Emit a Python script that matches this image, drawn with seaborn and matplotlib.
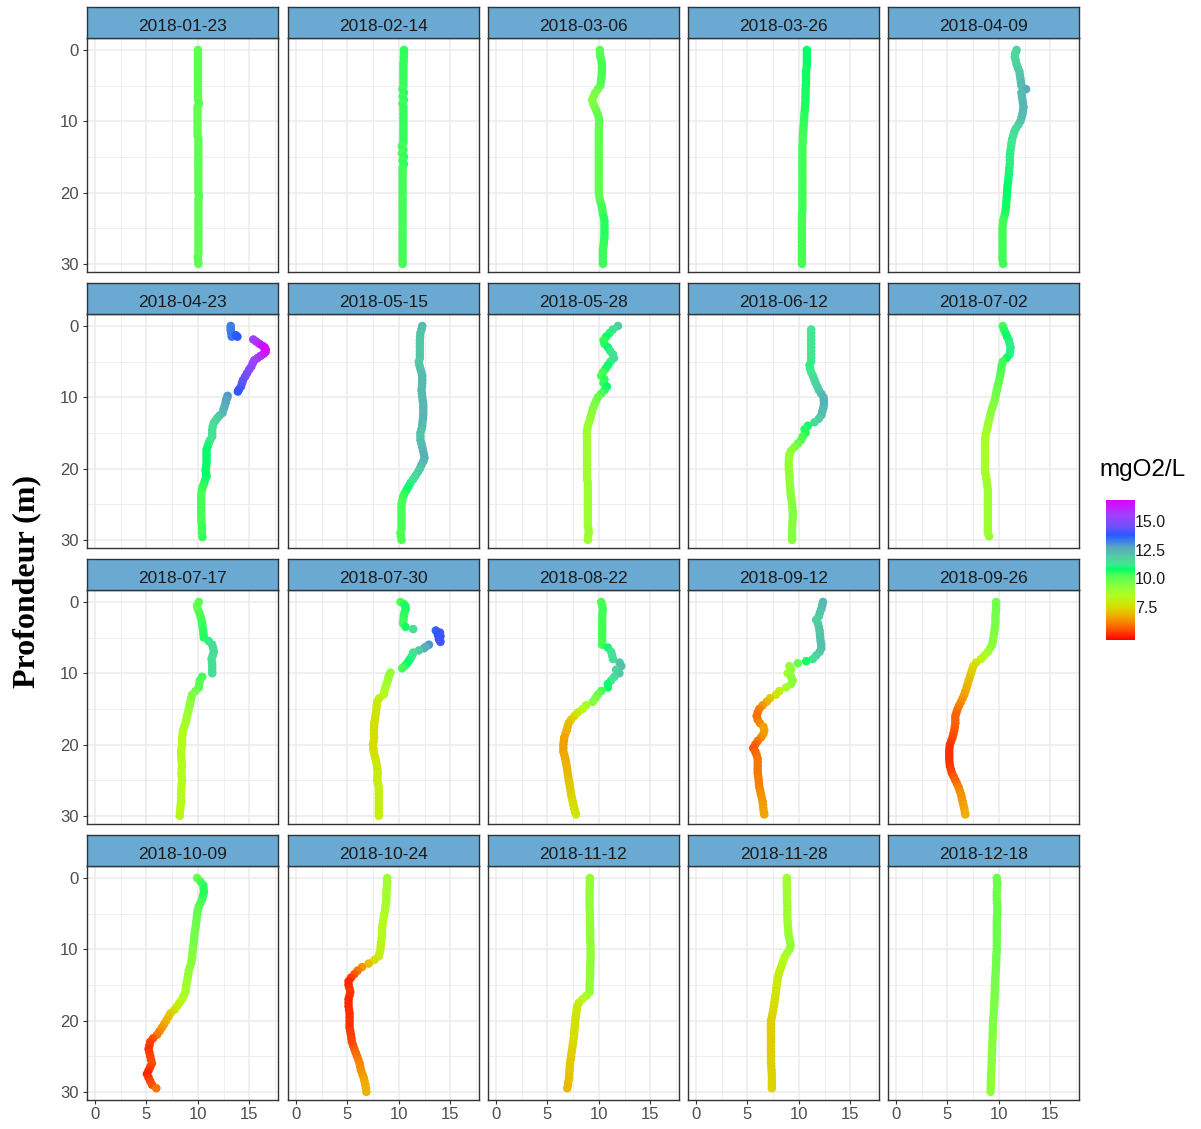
import numpy as np
import pandas as pd
import matplotlib
matplotlib.use("Agg")
import matplotlib.pyplot as plt
import seaborn as sns
from matplotlib.colors import LinearSegmentedColormap, Normalize
from matplotlib.cm import ScalarMappable

sns.set_style("white")
plt.rcParams['font.family'] = ['Liberation Sans', 'DejaVu Sans']

# ---------------- data ----------------
dates = ["2018-01-23", "2018-02-14", "2018-03-06", "2018-03-26", "2018-04-09",
         "2018-04-23", "2018-05-15", "2018-05-28", "2018-06-12", "2018-07-02",
         "2018-07-17", "2018-07-30", "2018-08-22", "2018-09-12", "2018-09-26",
         "2018-10-09", "2018-10-24", "2018-11-12", "2018-11-28", "2018-12-18"]

# depth (m), every half metre
dh = [0, 0.5, 1, 1.5, 2, 2.5, 3, 3.5, 4, 4.5, 5, 5.5, 6, 6.5, 7, 7.5, 8, 8.5, 9, 9.5,
      10, 10.5, 11, 11.5, 12, 12.5, 13, 13.5, 14, 14.5, 15, 15.5, 16, 16.5, 17, 17.5,
      18, 18.5, 19, 19.5, 20, 20.5, 21, 21.5, 22, 22.5, 23, 23.5, 24, 24.5, 25, 25.5,
      26, 26.5, 27, 27.5, 28, 28.5, 29, 29.5, 30]

o2_0123 = [10.02, 10.02, 10.02, 10.02, 10.02, 10.02, 10.02, 10.02, 10.02, 10.02,
           10.02, 10.02, 10.02, 10.02, 10.02, 10.12, 9.97, 9.97, 9.97, 9.97,
           9.97, 9.97, 9.97, 9.97, 9.97, 10.06, 10.05, 10.05, 10.05, 10.05,
           10.05, 10.05, 10.05, 10.05, 10.05, 10.05, 10.05, 10.05, 10.05, 10.05,
           10.05, 10.12, 10.06, 10.06, 10.06, 10.06, 10.06, 10.06, 10.06, 10.06,
           10.06, 10.06, 10.06, 10.06, 10.06, 10.06, 10.06, 10.06, 10.0, 10.03,
           10.06]
o2_0214 = [10.5, 10.5, 10.48, 10.48, 10.45, 10.45, 10.45, 10.45, 10.45, 10.45,
           10.45, 10.35, 10.5, 10.38, 10.5, 10.35, 10.45, 10.45, 10.45, 10.45,
           10.45, 10.45, 10.45, 10.45, 10.45, 10.45, 10.45, 10.3, 10.45, 10.3,
           10.5, 10.35, 10.5, 10.37, 10.37, 10.37, 10.37, 10.37, 10.37, 10.37,
           10.37, 10.37, 10.37, 10.37, 10.37, 10.37, 10.37, 10.37, 10.37, 10.37,
           10.37, 10.37, 10.37, 10.37, 10.37, 10.37, 10.37, 10.37, 10.37, 10.37,
           10.37]
o2_0306 = [10.1, 10.12, 10.15, 10.25, 10.3, 10.3, 10.3, 10.28, 10.25, 10.2,
           10.15, 9.9, 9.65, 9.5, 9.35, 9.45, 9.6, 9.75, 9.9, 10.0,
           10.05, 10.0, 10.0, 10.0, 10.0, 10.0, 10.0, 10.0, 10.0, 10.0,
           10.0, 10.0, 10.0, 10.0, 10.0, 10.0, 10.0, 10.0, 10.0, 10.0,
           10.0, 10.05, 10.1, 10.2, 10.3, 10.35, 10.4, 10.5, 10.55, 10.55,
           10.55, 10.55, 10.55, 10.52, 10.5, 10.45, 10.4, 10.4, 10.4, 10.4,
           10.4]
o2_0326 = [10.78, 10.78, 10.78, 10.78, 10.78, 10.75, 10.7, 10.7, 10.7, 10.7,
           10.68, 10.66, 10.65, 10.65, 10.65, 10.62, 10.6, 10.57, 10.55, 10.52,
           10.5, 10.47, 10.45, 10.42, 10.4, 10.38, 10.38, 10.35, 10.35, 10.35,
           10.35, 10.35, 10.35, 10.35, 10.35, 10.35, 10.35, 10.35, 10.35, 10.35,
           10.35, 10.35, 10.35, 10.35, 10.35, 10.35, 10.3, 10.3, 10.3, 10.3,
           10.3, 10.3, 10.3, 10.3, 10.3, 10.3, 10.3, 10.3, 10.3, 10.3,
           10.3]
o2_0409 = [11.73, 11.6, 11.56, 11.65, 11.73, 11.85, 12.0, 12.05, 12.1, 12.15,
           12.2, 12.65, 12.2, 12.25, 12.3, 12.35, 12.4, 12.35, 12.3, 12.2,
           12.1, 11.9, 11.66, 11.5, 11.4, 11.3, 11.24, 11.2, 11.14, 11.1,
           11.07, 11.07, 11.07, 11.03, 11.0, 10.97, 10.94, 10.9, 10.85, 10.82,
           10.8, 10.78, 10.75, 10.72, 10.7, 10.65, 10.6, 10.5, 10.42, 10.38,
           10.36, 10.36, 10.36, 10.36, 10.36, 10.36, 10.36, 10.36, 10.36, 10.36,
           10.42]

dep_0423 = [0.0, 0.3, 0.6, 0.9, 1.2, 1.5, 1.3, 1.5, 1.9, 2.2, 2.5, 2.8, 3.0, 3.3, 3.6,
            3.9, 4.2, 4.5, 4.8, 5.2, 5.7, 6.1, 6.6, 7.1, 7.6, 8.0, 8.5, 8.9, 9.2, 9.8,
            10.1, 10.4, 10.8, 11.3, 11.7, 12.2, 12.6, 12.9, 13.3, 13.6, 14.1, 14.6, 15.0,
            15.5, 16.0, 16.4, 16.9, 17.4, 17.9, 18.3, 18.8, 19.3, 19.8, 20.2, 20.7, 21.1,
            21.6, 22.1, 22.5, 23.0, 23.5, 24.0, 24.5, 25.0, 25.5, 26.0, 26.5, 27.0, 27.5,
            28.0, 28.5, 29.0, 29.6]
o2_0423 = [13.2, 13.2, 13.2, 13.25, 13.3, 13.3, 13.7, 13.85, 15.4, 15.7, 16.0, 16.3,
           16.5, 16.6, 16.6, 16.4, 16.1, 15.8, 15.5, 15.35, 15.2, 15.0, 14.8, 14.6, 14.4,
           14.3, 14.2, 14.0, 13.9, 12.9, 12.85, 12.75, 12.7, 12.6, 12.5, 12.4, 12.1, 11.9,
           11.7, 11.55, 11.45, 11.4, 11.4, 11.4, 11.2, 11.07, 10.95, 10.85, 10.85, 10.85,
           10.85, 10.85, 10.8, 10.75, 10.8, 10.85, 10.7, 10.6, 10.5, 10.4, 10.35, 10.33,
           10.33, 10.33, 10.33, 10.33, 10.33, 10.35, 10.35, 10.4, 10.4, 10.4, 10.45]

o2_0515 = [12.28, 12.2, 12.1, 12.07, 12.05, 12.05, 12.05, 12.05, 12.05, 12.05,
           11.95, 12.0, 12.1, 12.2, 12.28, 12.28, 12.28, 12.25, 12.2, 12.25,
           12.28, 12.33, 12.38, 12.38, 12.38, 12.37, 12.35, 12.3, 12.28, 12.2,
           12.1, 12.1, 12.1, 12.2, 12.28, 12.36, 12.44, 12.5, 12.38, 12.2,
           12.05, 11.85, 11.63, 11.4, 11.14, 10.95, 10.75, 10.55, 10.42, 10.33,
           10.26, 10.26, 10.26, 10.26, 10.26, 10.26, 10.26, 10.26, 10.16, 10.2,
           10.26]
o2_0528 = [11.86, 11.37, 11.04, 10.72, 10.46, 10.55, 10.88, 11.1, 11.37, 11.47,
           11.14, 10.88, 10.65, 10.4, 10.23, 10.55, 10.46, 10.78, 10.55, 10.23,
           9.9, 9.75, 9.58, 9.45, 9.35, 9.25, 9.15, 9.05, 8.93, 8.88,
           8.83, 8.85, 8.85, 8.85, 8.85, 8.85, 8.85, 8.85, 8.85, 8.85,
           8.85, 8.85, 8.85, 8.85, 8.93, 8.93, 8.93, 8.93, 8.93, 8.93,
           8.93, 8.93, 8.93, 8.93, 8.93, 8.93, 8.93, 9.0, 9.02, 8.95,
           8.93]
o2_0612 = [11.2, 11.2, 11.2, 11.2, 11.2, 11.2, 11.2, 11.2, 11.2, 11.2,
           11.04, 11.1, 11.2, 11.37, 11.5, 11.63, 11.8, 11.95, 12.18, 12.4,
           12.44, 12.44, 12.38, 12.28, 12.2, 11.95, 11.53, 10.88, 10.55, 10.65,
           10.39, 10.23, 9.9, 9.58, 9.25, 9.09, 9.05, 9.02, 9.02, 9.02,
           9.05, 9.09, 9.1, 9.12, 9.15, 9.18, 9.2, 9.25, 9.3, 9.35,
           9.38, 9.41, 9.41, 9.41, 9.38, 9.35, 9.35, 9.35, 9.35, 9.35]
o2_0702 = [10.39, 10.5, 10.65, 10.8, 10.98, 11.05, 11.14, 11.1, 11.04, 10.75,
           10.39, 10.3, 10.23, 10.18, 10.13, 10.05, 9.97, 9.88, 9.8, 9.73,
           9.67, 9.58, 9.48, 9.36, 9.25, 9.17, 9.09, 9.0, 8.93, 8.85,
           8.76, 8.7, 8.66, 8.66, 8.66, 8.66, 8.66, 8.66, 8.66, 8.66,
           8.66, 8.66, 8.76, 8.8, 8.83, 8.88, 8.93, 8.93, 8.93, 8.93,
           8.93, 8.93, 8.93, 8.93, 8.93, 8.93, 8.93, 8.93, 8.93, 9.05]
o2_0717 = [10.1, 9.93, 10.0, 10.15, 10.26, 10.35, 10.42, 10.47, 10.52, 10.55,
           10.59, 11.07, 11.4, 11.5, 11.56, 11.45, 11.34, 11.38, 11.4, 11.4,
           11.4, 10.42, 10.2, 10.15, 10.1, 9.77, 9.45, 9.35, 9.28, 9.2,
           9.12, 9.04, 8.96, 8.88, 8.8, 8.68, 8.57, 8.52, 8.47, 8.47,
           8.47, 8.42, 8.37, 8.38, 8.4, 8.43, 8.47, 8.43, 8.4, 8.43,
           8.47, 8.43, 8.4, 8.38, 8.37, 8.37, 8.37, 8.33, 8.3, 8.26,
           8.24]

dep_0730 = [0, 0.3, 0.6, 1, 1.5, 2, 2.5, 3, 3.5, 3.8, 4.0, 4.3, 4.6, 4.8, 5.0, 5.2, 5.4,
            5.6, 6.0, 6.3, 6.5, 6.8, 7.1, 7.5, 7.9, 8.2, 8.6, 9.0, 9.3, 9.9, 10.3, 10.7,
            11, 11.5, 12, 12.5, 13, 13.5, 14, 14.5, 15, 15.5, 16, 16.5, 17, 17.5, 18,
            18.5, 19, 19.5, 20, 20.5, 21, 21.5, 22, 22.5, 23, 23.5, 24, 24.5, 25, 25.5,
            26, 26.5, 27, 27.5, 28, 28.5, 29, 29.5, 30]
o2_0730 = [10.16, 10.5, 10.65, 10.65, 10.55, 10.49, 10.45, 10.42, 10.65, 11.4,
           13.6, 14.0, 13.8, 14.05, 13.95, 13.9, 14.0, 14.05,
           12.93, 12.6, 12.44, 11.95, 11.4, 11.3, 11.14, 11.0, 10.81, 10.55, 10.33,
           9.19, 9.05, 8.98, 8.93, 8.8, 8.7, 8.6, 8.53, 8.1, 7.88,
           7.85, 7.82, 7.77, 7.72, 7.67, 7.62, 7.6, 7.56, 7.58, 7.6,
           7.55, 7.49, 7.52, 7.56, 7.64, 7.72, 7.8, 7.88, 7.92, 7.95,
           7.92, 7.9, 7.98, 8.05, 8.05, 8.05, 8.05, 8.05, 8.05, 8.05,
           8.05, 8.05]

dep_0822 = [0, 0.5, 1, 1.5, 2, 2.5, 3, 3.5, 4, 4.5, 5, 5.5, 6, 6.4, 7, 7.5, 8, 8.5, 9,
            9.5, 10, 10.5, 11, 11.5, 12, 12.5, 13, 13.5, 14, 14.5, 15, 15.5, 16, 16.5, 17,
            17.5, 18, 18.5, 19, 19.5, 20, 20.5, 21, 21.5, 22, 22.5, 23, 23.5, 24, 24.5,
            25, 25.5, 26, 26.5, 27, 27.5, 28, 28.5, 29, 29.5, 29.8]
o2_0822 = [10.23, 10.33, 10.39, 10.35, 10.33, 10.33, 10.33, 10.33, 10.33, 10.33, 10.33,
           10.33, 10.33, 10.88,
           11.2, 11.3, 11.37, 12.02, 12.18, 11.69, 12.0, 11.5, 11.2, 10.88,
           10.88, 10.23, 9.9, 9.67, 9.41, 8.76, 8.44, 7.95, 7.62, 7.3,
           7.07, 6.97, 6.87, 6.75, 6.64, 6.6, 6.55, 6.55, 6.55, 6.65,
           6.74, 6.8, 6.87, 6.92, 6.97, 7.02, 7.07, 7.13, 7.2, 7.25,
           7.3, 7.38, 7.46, 7.54, 7.62, 7.7, 7.78]

dep_0912 = [0, 0.5, 1, 1.5, 2, 2.5, 3, 3.5, 4, 4.5, 5, 5.5, 6, 6.5, 7, 7.5, 8, 8.3, 8.6,
            9, 9.5, 10, 10.5, 11, 11.5, 12, 12.5, 13, 13.5, 14, 14.5, 15, 15.5, 16, 16.5,
            17, 17.5, 18, 18.5, 19, 19.5, 20, 20.5, 21, 21.5, 22, 22.5, 23, 23.5, 24,
            24.5, 25, 25.5, 26, 26.5, 27, 27.5, 28, 28.5, 29, 29.5, 29.8]
o2_0912 = [12.35, 12.28, 12.18, 12.05, 11.95, 11.69, 11.86, 11.95, 12.02, 12.05,
           12.08, 12.12, 12.18, 12.18, 12.02, 11.69, 11.37, 10.72, 9.9,
           9.09, 9.25, 8.92, 9.25, 9.41, 9.25, 8.76, 8.11, 7.78, 7.2, 6.87, 6.48,
           6.16, 6.0, 5.9, 6.0, 6.22, 6.55, 6.64, 6.55, 6.32, 6.0,
           5.77, 5.57, 5.77, 5.9, 6.0, 6.0, 6.0, 6.0, 6.0, 6.05,
           6.09, 6.12, 6.16, 6.24, 6.32, 6.4, 6.48, 6.52, 6.55, 6.6, 6.64]

dep_0926 = [0, 0.5, 1, 1.5, 2, 2.5, 3, 3.5, 4, 4.5, 5, 5.5, 6, 6.5, 7, 7.5, 8, 8.5, 9,
            9.5, 10, 10.5, 11, 11.5, 12, 12.5, 13, 13.5, 14, 14.5, 15, 15.5, 16, 16.5, 17,
            17.5, 18, 18.5, 19, 19.5, 20, 20.5, 21, 21.5, 22, 22.5, 23, 23.5, 24, 24.5,
            25, 25.5, 26, 26.5, 27, 27.5, 28, 28.5, 29, 29.5, 29.8]
o2_0926 = [9.74, 9.74, 9.74, 9.7, 9.67, 9.67, 9.67, 9.62, 9.58, 9.53,
           9.48, 9.42, 9.35, 9.15, 8.93, 8.6, 8.27, 7.78, 7.52, 7.4,
           7.3, 7.18, 7.07, 6.97, 6.87, 6.75, 6.64, 6.48, 6.32, 6.15,
           5.99, 5.88, 5.77, 5.77, 5.77, 5.72, 5.67, 5.58, 5.5, 5.37,
           5.24, 5.2, 5.18, 5.18, 5.18, 5.2, 5.24, 5.34, 5.44, 5.6,
           5.77, 5.93, 6.09, 6.2, 6.32, 6.4, 6.48, 6.56, 6.64, 6.7,
           6.74]
o2_1009 = [9.93, 10.26, 10.52, 10.56, 10.59, 10.5, 10.42, 10.26, 10.1, 10.0,
           9.93, 9.9, 9.87, 9.82, 9.77, 9.72, 9.67, 9.64, 9.61, 9.56,
           9.51, 9.48, 9.45, 9.4, 9.35, 9.23, 9.12, 9.07, 9.02, 8.95,
           8.89, 8.84, 8.79, 8.63, 8.47, 8.22, 7.98, 7.72, 7.33, 7.13,
           6.94, 6.72, 6.51, 6.27, 6.03, 5.64, 5.37, 5.29, 5.21, 5.29,
           5.37, 5.45, 5.54, 5.37, 5.21, 5.05, 5.21, 5.37, 5.54, 5.96]
o2_1024 = [8.86, 8.86, 8.86, 8.82, 8.79, 8.79, 8.79, 8.75, 8.7, 8.65,
           8.6, 8.53, 8.47, 8.42, 8.37, 8.37, 8.37, 8.32, 8.27, 8.24,
           8.21, 8.13, 8.05, 7.62, 7.07, 6.42, 5.99, 5.67, 5.34, 5.11,
           5.11, 5.2, 5.28, 5.2, 5.11, 5.11, 5.11, 5.16, 5.21, 5.21,
           5.21, 5.21, 5.21, 5.28, 5.34, 5.39, 5.44, 5.55, 5.67, 5.8,
           5.93, 6.06, 6.19, 6.25, 6.32, 6.45, 6.58, 6.66, 6.74, 6.8,
           6.84]
o2_1112 = [9.13, 9.13, 9.13, 9.12, 9.1, 9.1, 9.1, 9.1, 9.1, 9.12,
           9.13, 9.13, 9.13, 9.14, 9.15, 9.15, 9.15, 9.16, 9.18, 9.19,
           9.2, 9.2, 9.2, 9.19, 9.18, 9.16, 9.15, 9.15, 9.15, 9.12,
           9.1, 9.1, 9.1, 8.8, 8.4, 8.06, 7.9, 7.85, 7.8, 7.75,
           7.7, 7.67, 7.65, 7.62, 7.6, 7.55, 7.5, 7.45, 7.4, 7.35,
           7.3, 7.25, 7.2, 7.17, 7.15, 7.12, 7.1, 7.05, 7.0, 6.93]
o2_1128 = [8.83, 8.83, 8.83, 8.84, 8.85, 8.85, 8.85, 8.86, 8.88, 8.88,
           8.88, 8.89, 8.9, 8.92, 8.95, 8.98, 9.0, 9.08, 9.15, 9.2,
           9.1, 8.87, 8.64, 8.52, 8.4, 8.28, 8.15, 8.05, 7.96, 7.9,
           7.85, 7.81, 7.77, 7.72, 7.67, 7.62, 7.57, 7.51, 7.45, 7.38,
           7.3, 7.29, 7.28, 7.28, 7.28, 7.29, 7.3, 7.29, 7.28, 7.29,
           7.3, 7.3, 7.3, 7.32, 7.35, 7.37, 7.38, 7.38, 7.38, 7.38]
o2_1218 = [9.8, 9.82, 9.85, 9.82, 9.8, 9.8, 9.8, 9.82, 9.85, 9.85,
           9.85, 9.82, 9.8, 9.8, 9.8, 9.8, 9.8, 9.8, 9.8, 9.8,
           9.8, 9.78, 9.75, 9.75, 9.75, 9.72, 9.7, 9.68, 9.65, 9.63,
           9.62, 9.61, 9.6, 9.59, 9.58, 9.56, 9.55, 9.52, 9.5, 9.47,
           9.45, 9.43, 9.42, 9.41, 9.4, 9.39, 9.38, 9.36, 9.35, 9.33,
           9.32, 9.31, 9.3, 9.29, 9.28, 9.26, 9.25, 9.23, 9.22, 9.21,
           9.2]

profiles = [
    (dh, o2_0123), (dh, o2_0214), (dh, o2_0306), (dh, o2_0326),
    (dh, o2_0409), (dep_0423, o2_0423), (dh, o2_0515), (dh, o2_0528),
    (dh[1:], o2_0612), (dh[:60], o2_0702), (dh, o2_0717), (dep_0730, o2_0730),
    (dep_0822, o2_0822), (dep_0912, o2_0912), (dep_0926, o2_0926), (dh[:60], o2_1009),
    (dh, o2_1024), (dh[:60], o2_1112), (dh[:60], o2_1128), (dh, o2_1218),
]

frames = []
for date, (dep, val) in zip(dates, profiles):
    n = min(len(dep), len(val))
    frames.append(pd.DataFrame({"date": date, "depth": dep[:n], "o2": val[:n]}))
df = pd.concat(frames, ignore_index=True)

# ---------------- colour scale ----------------
vmin, vmax = 4.65, 16.8
nodes = [(4.65, "#FF0000"), (5.3, "#FF3C00"), (6.0, "#F87800"), (6.7, "#F0AA00"),
         (7.5, "#D8DC00"), (8.5, "#B0FF20"), (9.5, "#80FF45"), (10.0, "#60FF50"),
         (10.4, "#40FF58"), (10.8, "#00FF68"), (11.2, "#40E890"), (11.8, "#50D0A0"),
         (12.7, "#5AA8C0"), (13.2, "#4080E8"), (13.8, "#2858FF"), (14.5, "#7050F8"),
         (15.5, "#A040FF"), (16.8, "#E000FF")]
cmap = LinearSegmentedColormap.from_list(
    "o2", [((v - vmin) / (vmax - vmin), c) for v, c in nodes])
norm = Normalize(vmin=vmin, vmax=vmax)

# ---------------- layout ----------------
W, H = 1201, 1129
fig = plt.figure(figsize=(W / 100, H / 100), dpi=100)
fig.patch.set_facecolor("white")

col_left = [87, 288, 488, 688, 888]
strip_top = [7, 283, 559, 835]
panel_w, strip_h, panel_h = 191, 31, 234

for i, date in enumerate(dates):
    r, c = divmod(i, 5)
    l = col_left[c]
    t = strip_top[r]
    ax = fig.add_axes([l / W, 1 - (t + strip_h + panel_h) / H, panel_w / W, panel_h / H])
    sub = df[df["date"] == date]
    sns.scatterplot(data=sub, x="o2", y="depth", hue="o2", palette=cmap, hue_norm=norm,
                    s=38, linewidth=0, legend=False, ax=ax, zorder=3)
    ax.set_xlim(-0.78, 17.8)
    ax.set_ylim(31.15, -1.68)
    ax.set_xticks([0, 5, 10, 15])
    ax.set_xticks([2.5, 7.5, 12.5, 17.5], minor=True)
    ax.set_yticks([0, 10, 20, 30])
    ax.set_yticks([5, 15, 25], minor=True)
    ax.set_axisbelow(True)
    ax.grid(which="major", color="#EBEBEB", linewidth=1.1)
    ax.grid(which="minor", color="#EBEBEB", linewidth=0.55)
    ax.set_xlabel("")
    ax.set_ylabel("")
    for sp in ax.spines.values():
        sp.set_color("#333333")
        sp.set_linewidth(1.0)
    ax.tick_params(which="minor", length=0)
    ax.tick_params(which="major", length=3, width=0.8, color="#333333",
                   labelcolor="#4D4D4D", labelsize=12, pad=2)
    ax.tick_params(axis="y", left=(c == 0), labelleft=(c == 0), pad=3)
    ax.tick_params(axis="x", bottom=(r == 3), labelbottom=(r == 3))
    if c == 0:
        ax.set_yticklabels(["0", "10", "20", "30"])
    if r == 3:
        ax.set_xticklabels(["0", "5", "10", "15"])

    sax = fig.add_axes([l / W, 1 - (t + strip_h) / H, panel_w / W, strip_h / H])
    sax.set_facecolor("#6AAAD2")
    sax.set_xticks([])
    sax.set_yticks([])
    for sp in sax.spines.values():
        sp.set_color("#333333")
        sp.set_linewidth(1.0)
    sax.text(0.5, 0.37, date, ha="center", va="center", fontsize=12.5,
             color="#1A1A1A", transform=sax.transAxes)

# y label
fig.text(27 / W, 1 - 582 / H, "Profondeur (m)", rotation=90, ha="center", va="center",
         fontsize=23, fontweight="bold", family=["Liberation Serif", "DejaVu Serif"],
         color="black")

# colour bar legend
fig.text(1099 / W, 1 - 470 / H, "mgO2/L", ha="left", va="center", fontsize=17.5,
         color="black")
cax = fig.add_axes([1106 / W, 1 - 640 / H, 29 / W, 140 / H])
cb = fig.colorbar(ScalarMappable(norm=norm, cmap=cmap), cax=cax)
cb.outline.set_visible(False)
cb.set_ticks([7.5, 10.0, 12.5, 15.0])
cb.set_ticklabels(["7.5", "10.0", "12.5", "15.0"])
cax.tick_params(axis="y", direction="in", left=True, right=True, length=5, width=1,
                color="white", labelcolor="#1A1A1A", labelsize=11.5, pad=0)

fig.savefig("out.png", dpi=100, facecolor="white")
